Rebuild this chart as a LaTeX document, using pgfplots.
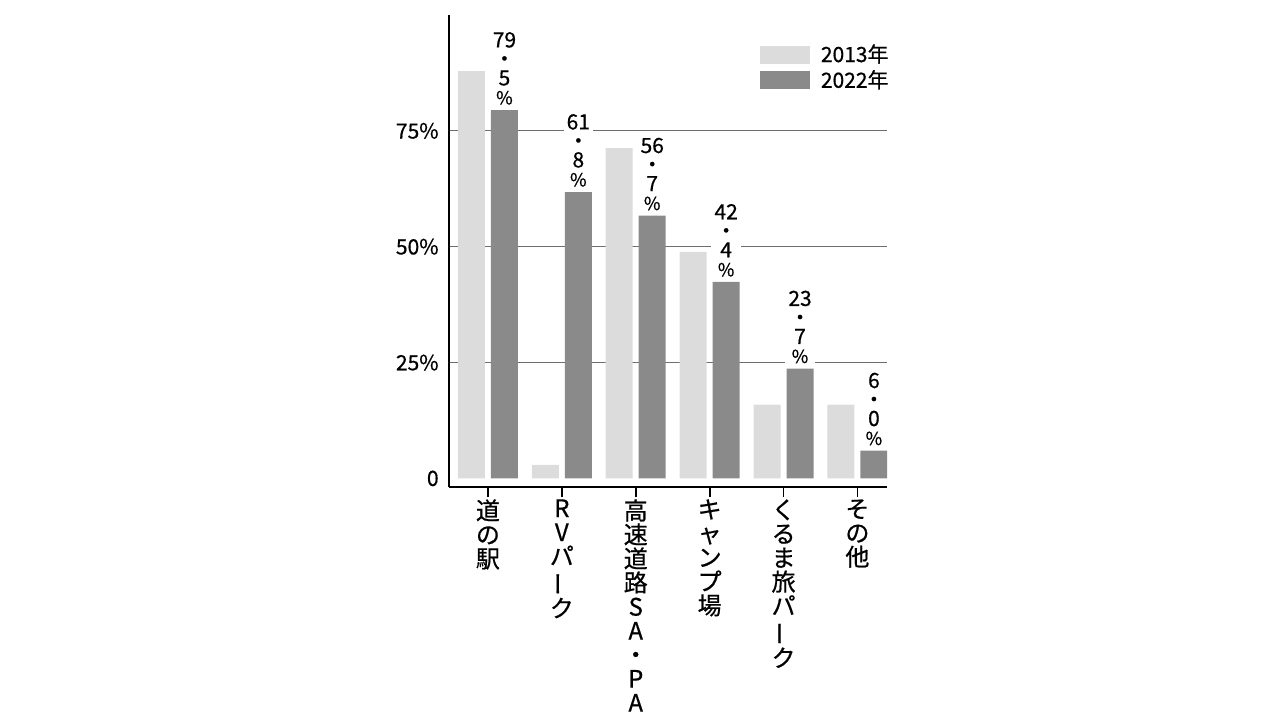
\documentclass[border=0pt]{standalone}
\usepackage{fontspec}
\setmainfont{Noto Sans CJK JP}[FakeBold=0.6]
\usepackage{graphicx}
\usepackage{pgfplots}
\usepackage{pgfplotstable}
\pgfplotsset{compat=1.18}

\definecolor{bar13}{HTML}{DCDCDC}
\definecolor{bar22}{HTML}{8A8A8A}
\definecolor{gridc}{HTML}{6E6E6E}

% 2013
\pgfplotstableread{
x y
0 87.9
1 2.9
2 71.3
3 48.9
4 15.9
5 15.9
}\tabA

% 2022
\pgfplotstableread{
x y ip dp
0 79.5 79 5
1 61.8 61 8
2 56.7 56 7
3 42.4 42 4
4 23.7 23 7
5 6.0 6 0
}\tabB

\newcommand{\vbar}{\rotatebox[origin=c]{90}{ー}}

\begin{document}
\begin{tikzpicture}
\begin{axis}[
  at={(224.5pt,116.5pt)}, anchor=south west,
  scale only axis, width=219pt, height=236pt,
  ybar=3pt, bar width=13.5pt,
  xmin=-0.527, xmax=5.40,
  ymin=-1.85, ymax=100,
  axis lines=left,
  axis line style={-, line width=0.9pt, black},
  xtick={0,...,5},
  xticklabels={
    {道\\の\\駅},
    {R\\V\\パ\\\vbar\\ク},
    {高\\速\\道\\路\\S\\A\\・\\P\\A},
    {キ\\ャ\\ン\\プ\\場},
    {く\\る\\ま\\旅\\パ\\\vbar\\ク},
    {そ\\の\\他}},
  x tick label style={font=\fontsize{12}{12}\selectfont, anchor=north, align=center, inner sep=1pt},
  tick align=outside,
  major tick length=5pt,
  xtick style={line width=0.9pt, black},
  ytick={25,50,75},
  yticklabels={25\%,50\%,75\%},
  extra y ticks={0},
  extra y tick labels={0},
  extra y tick style={grid=none},
  ytick style={draw=none},
  y tick label style={font=\fontsize{10.5}{12}\selectfont, inner sep=0pt},
  /pgf/number format/assume math mode=true,
  ymajorgrids,
  grid style={gridc, line width=0.6pt},
  legend style={at={(1.009,0.943)}, anchor=north east, draw=none, fill=none,
    inner sep=0pt, row sep=0.5pt, font=\fontsize{10.5}{12}\selectfont,
    nodes={inner sep=1pt},
    /tikz/every odd column/.append style={column sep=4.5pt}},
  legend cell align=left,
]
\addplot[fill=bar13, draw=none, bar shift=-8.25pt,
  legend image code/.code={\fill[bar13] (0pt,-4.5pt) rectangle (25pt,4.5pt);}]
  table[x=x, y=y] {\tabA};
\addlegendentry{2013年}
\addplot[fill=bar22, draw=none, bar shift=8.25pt,
  legend image code/.code={\fill[bar22] (0pt,-4.5pt) rectangle (25pt,4.5pt);},
  visualization depends on={\thisrow{ip}\as\ival},
  visualization depends on={\thisrow{dp}\as\dval},
  nodes near coords={\pgfmathprintnumber[fixed,precision=0]{\ival}\\・\\\pgfmathprintnumber[fixed,precision=0]{\dval}\\{\fontsize{9}{9}\selectfont\%}},
  every node near coord/.append style={anchor=south, align=center, fill=white,
    inner sep=1.5pt, yshift=1pt, font=\fontsize{10.5}{9.5}\selectfont, text=black,
    /pgf/number format/assume math mode=true}]
  table[x=x, y=y] {\tabB};
\addlegendentry{2022年}
\end{axis}
\pgfresetboundingbox
\path[use as bounding box] (0pt,0pt) rectangle (640pt,360pt);
\end{tikzpicture}
\end{document}
